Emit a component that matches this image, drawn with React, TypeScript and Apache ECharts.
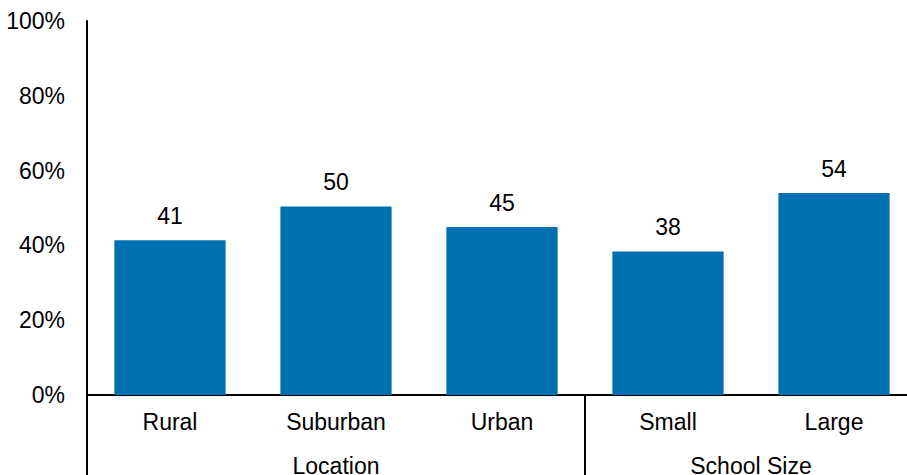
import React, { useEffect, useRef } from "react";
import * as echarts from "echarts";

const categories = ["Rural", "Suburban", "Urban", "Small", "Large"];
const values = [41.4, 50.4, 44.9, 38.4, 54.0];
const groups = [
  { name: "Location", from: 0, to: 2 },
  { name: "School Size", from: 3, to: 4 },
];
const yTicks = [0, 20, 40, 60, 80, 100];

const FONT = "'Liberation Sans', Arial, Helvetica, sans-serif";
const BLUE = "#0070b0";

export default function App() {
  const ref = useRef<HTMLDivElement>(null);
  useEffect(() => {
    if (!ref.current) return;
    const chart = echarts.init(ref.current, null, { renderer: "svg" });
    const option: any = {
      animation: false,
      grid: { left: 87, top: 21, right: 0, height: 374, containLabel: false },
      xAxis: {
        type: "category",
        data: categories,
        axisLine: { show: true, lineStyle: { color: "#000", width: 2 } },
        axisTick: {
          show: true,
          length: 80,
          lineStyle: { color: "#000", width: 2 },
          interval: (i: number) => groups.some((g) => g.from === i),
        },
        axisLabel: {
          interval: 0,
          margin: 15,
          fontSize: 23,
          color: "#000",
          fontFamily: FONT,
        },
      },
      yAxis: {
        type: "value",
        min: yTicks[0],
        max: yTicks[yTicks.length - 1],
        interval: 20,
        splitLine: { show: false },
        axisTick: { show: false },
        axisLine: { show: true, lineStyle: { color: "#000", width: 2 } },
        axisLabel: {
          margin: 22,
          fontSize: 23,
          color: "#000",
          fontFamily: FONT,
          formatter: (v: number) => v + "%",
        },
      },
      series: [
        {
          type: "bar",
          data: values,
          barCategoryGap: "33%",
          itemStyle: { color: BLUE },
          label: {
            show: true,
            position: "top",
            distance: 13,
            fontSize: 23,
            color: "#000",
            fontFamily: FONT,
            formatter: (p: any) => String(Math.round(p.value)),
          },
        },
      ],
    };
    chart.setOption(option);
    const graphics = groups.map((g) => {
      const x1 = chart.convertToPixel({ xAxisIndex: 0 }, g.from) as number;
      const x2 = chart.convertToPixel({ xAxisIndex: 0 }, g.to) as number;
      return {
        type: "text",
        x: (x1 + x2) / 2,
        y: 465.5,
        style: {
          text: g.name,
          fontSize: 23,
          fontFamily: FONT,
          fill: "#000",
          align: "center",
          verticalAlign: "middle",
        },
      };
    });
    chart.setOption({ graphic: graphics });
    return () => chart.dispose();
  }, []);
  return (
    <div
      style={{
        position: "absolute",
        left: 0,
        top: 0,
        width: 907,
        height: 475,
        overflow: "hidden",
      }}
    >
      <div ref={ref} style={{ width: 917, height: 475 }} />
    </div>
  );
}
